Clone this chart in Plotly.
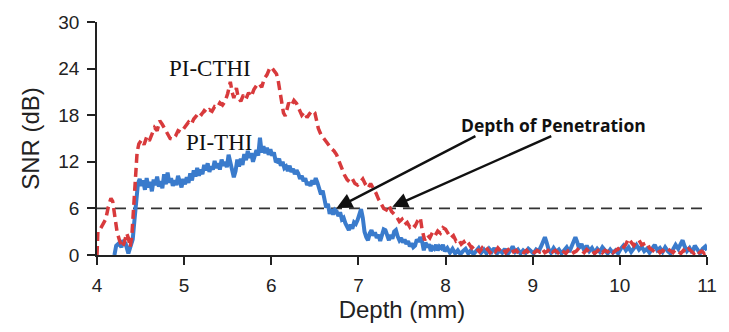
import plotly.graph_objects as go

# ---- data ----
depth_thi = [4.20,4.22,4.25,4.28,4.30,4.33,4.36,4.39,4.41,4.43,4.45,4.47,4.49,4.51,4.53,4.55,4.57,4.59,4.61,4.63,
             4.65,4.67,4.69,4.71,4.73,4.75,4.77,4.79,4.81,4.83,4.85,4.87,4.89,4.91,4.93,4.95,4.97,4.99,5.01,5.03,
             5.05,5.07,5.09,5.11,5.13,5.15,5.17,5.19,5.21,5.23,5.25,5.27,5.29,5.31,5.33,5.35,5.37,5.39,5.41,5.43,
             5.45,5.47,5.49,5.51,5.53,5.55,5.57,5.59,5.61,5.63,5.65,5.67,5.69,5.71,5.73,5.75,5.77,5.79,5.81,5.83,
             5.85,5.87,5.89,5.91,5.93,5.95,5.97,5.99,6.01,6.03,6.05,6.07,6.09,6.11,6.13,6.15,6.17,6.19,6.21,6.23,
             6.25,6.27,6.29,6.31,6.33,6.35,6.37,6.39,6.41,6.43,6.45,6.47,6.49,6.51,6.53,6.55,6.57,6.59,6.61,6.63,
             6.65,6.67,6.69,6.71,6.73,6.75,6.77,6.79,6.81,6.83,6.85,6.87,6.89,6.91,6.93,6.95,6.97,6.99,7.01,7.03,
             7.05,7.07,7.09,7.11,7.13,7.15,7.17,7.19,7.21,7.23,7.25,7.27,7.29,7.31,7.33,7.35,7.37,7.39,7.41,7.43,
             7.45,7.47,7.49,7.51,7.53,7.55,7.57,7.59,7.61,7.63,7.65,7.67,7.69,7.71,7.73,7.75,7.77,7.79,7.81,7.83,
             7.85,7.87,7.89,7.91,7.93,7.95,7.97,7.99,8.02,8.05,8.08,8.11,8.14,8.17,8.20,8.23,8.26,8.29,8.32,8.35,
             8.38,8.41,8.44,8.47,8.50,8.53,8.56,8.59,8.62,8.65,8.68,8.71,8.74,8.77,8.80,8.83,8.86,8.89,8.92,8.95,
             8.98,9.01,9.04,9.07,9.10,9.12,9.14,9.16,9.18,9.21,9.24,9.27,9.30,9.33,9.36,9.39,9.42,9.45,9.47,9.49,
             9.51,9.53,9.56,9.59,9.62,9.65,9.68,9.71,9.74,9.77,9.80,9.83,9.86,9.89,9.92,9.95,9.98,10.01,10.04,10.07,
             10.10,10.13,10.16,10.19,10.22,10.25,10.28,10.31,10.34,10.37,10.40,10.43,10.46,10.49,10.52,10.55,10.58,10.61,10.64,10.67,
             10.70,10.72,10.74,10.77,10.80,10.83,10.86,10.89,10.92,10.95,10.98,11.00]
snr_thi = [0,1.2,1.5,1.0,1.9,1.4,0.2,1.2,2.0,4.5,7.5,9.2,9.8,8.9,9.6,8.4,9.9,8.7,9.4,8.2,
           9.7,9.0,10.1,8.8,9.5,8.6,10.4,9.1,10.6,9.3,9.9,8.9,9.6,9.0,10.2,9.2,8.7,9.8,9.1,10.0,
           9.3,10.5,9.6,10.9,10.1,11.2,10.2,11.0,10.4,11.6,10.9,11.8,10.7,11.4,11.0,12.1,11.2,11.8,11.0,12.3,
           11.5,12.0,11.3,12.9,11.8,11.2,10.0,10.8,12.3,11.4,12.4,11.6,13.0,12.2,13.4,12.5,13.1,12.0,12.6,13.5,
           12.8,15.1,13.2,14.0,13.1,13.8,12.9,13.6,12.8,13.2,12.1,12.0,12.4,11.5,12.0,11.2,11.4,10.8,11.5,10.7,
           11.1,10.4,10.9,10.5,9.8,10.2,9.5,9.9,9.0,9.4,8.9,9.6,9.1,9.9,9.3,8.6,7.8,8.3,6.9,6.1,
           6.6,5.3,5.9,5.2,5.8,5.6,5.0,5.5,4.6,4.8,4.1,3.5,3.2,3.9,3.4,4.2,4.0,4.5,5.2,5.9,
           4.8,3.0,2.3,1.9,2.8,3.2,2.5,2.9,2.2,2.6,1.8,2.7,3.3,3.2,2.4,1.9,2.6,2.1,3.0,3.2,
           2.4,1.9,2.2,1.6,2.0,1.4,1.8,1.1,1.5,1.0,1.2,2.0,1.7,2.3,1.8,0.6,1.6,1.0,1.4,0.5,
           1.0,0.8,1.3,0.6,1.1,0.9,1.3,0.5,0.9,0.3,0.8,0.2,0.6,0.1,0.5,0.8,0.2,0.6,0.1,0.5,
           0.9,0.3,0.7,0.2,0.8,0.4,0.9,0.2,0.6,0.3,0.8,0.1,0.5,1.1,0.4,0.7,0.2,0.6,0.3,0.8,
           0.4,0.2,0.7,0.5,1.2,1.9,2.3,1.6,0.8,0.3,0.9,0.4,0.7,0.2,0.6,1.0,0.4,1.1,1.8,2.3,
           1.7,0.9,1.4,0.6,1.2,0.5,0.9,0.3,0.8,0.4,1.0,0.5,0.2,0.7,0.3,0.6,0.2,0.8,1.2,0.6,
           1.0,0.4,0.9,1.3,0.7,1.1,0.5,0.8,0.3,0.9,1.3,0.6,0.9,0.4,1.0,0.5,0.2,0.7,1.3,0.8,
           1.5,1.9,1.2,0.5,0.9,0.3,1.2,0.6,0.2,0.8,1.1,0.6]

depth_cthi = [4.00,4.01,4.04,4.07,4.10,4.13,4.16,4.18,4.20,4.23,4.26,4.29,4.31,4.34,4.36,4.38,4.40,4.42,4.44,4.46,
              4.48,4.51,4.54,4.57,4.60,4.63,4.66,4.69,4.72,4.75,4.78,4.81,4.84,4.87,4.90,4.93,4.96,4.99,5.02,5.05,
              5.08,5.11,5.14,5.17,5.20,5.23,5.26,5.29,5.32,5.35,5.38,5.41,5.44,5.47,5.50,5.53,5.55,5.57,5.60,5.62,
              5.65,5.68,5.71,5.74,5.77,5.80,5.83,5.86,5.89,5.92,5.95,5.98,6.00,6.03,6.06,6.08,6.10,6.12,6.14,6.16,
              6.18,6.20,6.23,6.26,6.29,6.32,6.35,6.38,6.41,6.44,6.47,6.50,6.52,6.54,6.57,6.60,6.63,6.66,6.69,6.72,
              6.75,6.78,6.81,6.84,6.87,6.90,6.93,6.96,6.99,7.02,7.05,7.08,7.11,7.14,7.17,7.20,7.23,7.26,7.29,7.32,
              7.35,7.38,7.41,7.44,7.47,7.50,7.53,7.56,7.59,7.62,7.65,7.68,7.71,7.73,7.76,7.79,7.82,7.85,7.88,7.91,
              7.94,7.97,8.00,8.03,8.06,8.09,8.12,8.15,8.18,8.21,8.24,8.27,8.30,8.33,8.36,8.39,8.42,8.45,8.48,8.51,
              8.54,8.57,8.60,8.63,8.66,8.69,8.72,8.75,8.78,8.81,8.84,8.87,8.90,8.93,8.96,8.99,9.02,9.05,9.08,9.11,
              9.14,9.17,9.20,9.23,9.26,9.29,9.32,9.35,9.38,9.41,9.44,9.47,9.50,9.53,9.56,9.59,9.62,9.65,9.68,9.71,
              9.74,9.77,9.80,9.83,9.86,9.89,9.92,9.95,9.98,10.01,10.04,10.07,10.10,10.13,10.16,10.19,10.22,10.25,10.28,10.31,
              10.34,10.37,10.40,10.43,10.46,10.49,10.52,10.55,10.58,10.61,10.64,10.67,10.70,10.73,10.76,10.79,10.82,10.85,10.88,10.91,
              10.94,10.97,11.00]
snr_cthi = [0,3.0,3.4,3.9,4.6,6.2,7.3,6.9,5.2,3.0,1.8,1.0,1.5,2.8,2.2,1.0,2.5,6.0,10.5,13.2,
            14.3,14.8,14.2,15.2,14.7,15.6,16.4,16.0,17.3,16.8,16.2,15.6,15.0,14.9,15.3,16.0,15.8,16.2,16.6,17.1,
            16.8,17.5,17.9,18.4,18.1,18.6,18.3,18.7,18.5,19.1,19.0,19.6,19.3,19.8,20.8,22.3,21.0,20.2,21.5,20.3,
            19.8,20.6,20.1,20.9,20.4,21.3,21.8,22.1,21.6,22.7,23.2,24.0,24.2,23.8,23.3,22.4,21.2,19.6,18.3,17.9,
            19.0,19.6,19.2,19.9,19.5,18.8,18.0,18.4,17.7,18.2,18.6,18.3,17.4,16.3,15.5,15.0,14.7,14.1,13.7,13.4,
            12.9,12.0,11.1,10.3,9.7,9.4,9.8,9.2,9.0,9.4,9.8,9.1,8.6,9.2,8.7,8.0,7.2,6.6,6.0,5.8,
            6.4,5.6,5.2,4.9,4.3,4.6,3.9,4.2,3.6,4.0,3.7,4.4,4.8,3.3,1.9,2.6,2.2,2.9,2.5,3.1,
            2.8,3.5,3.3,2.7,2.2,2.5,1.8,2.0,1.4,1.7,1.1,1.4,0.9,1.2,0.8,0.4,0.9,0.5,0.8,0.3,
            0.7,0.4,0.9,0.5,0.8,0.3,0.7,1.0,0.4,0.6,0.2,0.5,0.3,0.6,0.2,0.5,0.3,0.6,0.4,0.8,
            0.3,0.5,0.9,0.4,0.6,0.3,0.7,0.4,0.2,0.6,0.8,0.3,0.5,0.9,0.6,0.3,0.7,0.4,0.6,0.2,
            0.5,0.8,0.3,0.6,0.4,0.7,0.3,0.5,0.8,0.5,0.9,1.4,2.1,1.6,1.2,1.7,1.9,1.3,1.5,1.6,
            0.9,0.6,0.4,0.7,0.3,0.6,0.4,0.8,0.5,0.3,0.7,0.4,0.2,0.6,0.3,0.8,0.5,0.2,0.6,0.3,
            0.5,0.2,0.4]

threshold_depth = [4, 11]
threshold_snr = [6, 6]

x_ticks = [4, 5, 6, 7, 8, 9, 10, 11]
y_ticks = [0, 6, 12, 18, 24, 30]

label_cthi = "PI-CTHI"
label_thi = "PI-THI"
label_dop = "Depth of Penetration"
# arrow heads (where the curves cross 6 dB) and arrow tails (near the label)
arrow_heads = [(6.75, 6.05), (7.39, 6.2)]
arrow_tails = [(8.36, 15.4), (9.23, 15.4)]

RED = "#d83a3c"
BLUE = "#3a7bcc"

fig = go.Figure()
fig.add_trace(go.Scatter(x=threshold_depth, y=threshold_snr, mode="lines",
                         line=dict(color="#333333", width=1.8, dash="11px,7px"),
                         showlegend=False, hoverinfo="skip"))
fig.add_trace(go.Scatter(x=depth_thi, y=snr_thi, mode="lines",
                         line=dict(color=BLUE, width=4), showlegend=False, name=label_thi))
fig.add_trace(go.Scatter(x=depth_cthi, y=snr_cthi, mode="lines",
                         line=dict(color=RED, width=3.5, dash="9px,5px"), showlegend=False, name=label_cthi))

annotations = [
    dict(x=5.3, y=24.0, text=label_cthi, showarrow=False, xref="x", yref="y",
         font=dict(family="Liberation Serif", size=23, color="#111111"), xanchor="center", yanchor="middle"),
    dict(x=5.4, y=14.5, text=label_thi, showarrow=False, xref="x", yref="y",
         font=dict(family="Liberation Serif", size=23, color="#111111"), xanchor="center", yanchor="middle"),
    dict(x=9.24, y=16.8, text="<b>" + label_dop + "</b>", showarrow=False, xref="x", yref="y",
         font=dict(family="Open Sans", size=17.5, color="#111111"), xanchor="center", yanchor="middle"),
]
for (hx, hy), (tx, ty) in zip(arrow_heads, arrow_tails):
    annotations.append(dict(x=hx, y=hy, ax=tx, ay=ty, xref="x", yref="y", axref="x", ayref="y",
                            text="", showarrow=True, arrowhead=2, arrowsize=1.3, arrowwidth=2.4,
                            arrowcolor="#111111"))

fig.update_layout(
    width=729, height=332,
    margin=dict(l=97, r=12, t=17, b=77),
    paper_bgcolor="white", plot_bgcolor="white",
    font=dict(family="Liberation Sans", color="#222222"),
    annotations=annotations,
    xaxis=dict(range=[4, 11], tickvals=x_ticks, ticks="outside", ticklen=8, tickwidth=1.5,
               tickcolor="#222222", showline=True, linecolor="#222222", linewidth=1.5,
               showgrid=False, zeroline=False, tickfont=dict(size=19), ticklabelstandoff=4,
               title=dict(text="Depth (mm)", font=dict(size=24), standoff=6)),
    yaxis=dict(range=[0, 30], tickvals=y_ticks, ticks="outside", ticklen=8, tickwidth=1.5,
               tickcolor="#222222", showline=True, linecolor="#222222", linewidth=1.5,
               showgrid=False, zeroline=False, tickfont=dict(size=19), ticklabelstandoff=4,
               title=dict(text="SNR (dB)", font=dict(size=24), standoff=12)),
)

fig.write_html("out.html")
